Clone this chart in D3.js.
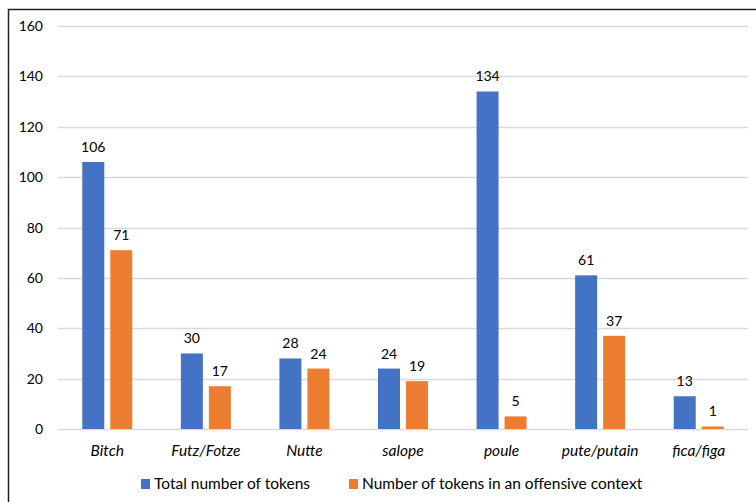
<!DOCTYPE html>
<html><head><meta charset="utf-8">
<script src="https://cdn.jsdelivr.net/npm/d3@7"></script>
<style>body{margin:0;background:#fff}svg{display:block}text{font-family:Lato,"Open Sans",sans-serif;fill:#000}</style>
</head><body>
<svg id="c" width="756" height="502"></svg>
<script>
const categories = ["Bitch","Futz/Fotze","Nutte","salope","poule","pute/putain","fica/figa"];
const totalTokens = [106,30,28,24,134,61,13];
const offensiveTokens = [71,17,24,19,5,37,1];
const seriesNames = ["Total number of tokens","Number of tokens in an offensive context"];
const seriesColors = ["#4472C4","#ED7D31"];
const yTicks = [0,20,40,60,80,100,120,140,160];

const svg = d3.select("#c");
const m = {left:58, right:8, top:26, bottom:73};
const W = 756, H = 502;
const x = d3.scaleBand().domain(categories).range([m.left, W - m.right]).paddingInner(0).paddingOuter(0);
const y = d3.scaleLinear().domain([0,160]).range([H - m.bottom, m.top]);
const barW = 22, gap = 6;

// border
svg.append("path").attr("d",`M8.5,${H}V9.5H${W}`).attr("fill","none").attr("stroke","#222").attr("stroke-width",1.5);

// gridlines
svg.append("g").selectAll("line").data(yTicks).join("line")
  .attr("x1",m.left).attr("x2",W - m.right)
  .attr("y1",d=>Math.round(y(d))+0.5).attr("y2",d=>Math.round(y(d))+0.5)
  .attr("stroke","#d9d9d9").attr("stroke-width",1.3);

// y tick labels
svg.append("g").selectAll("text").data(yTicks).join("text")
  .attr("x",43).attr("y",d=>y(d)+5).attr("text-anchor","end")
  .attr("font-size",14).text(d=>d);

const series = [totalTokens, offensiveTokens];
series.forEach((vals,si)=>{
  const g = svg.append("g");
  const off = si===0 ? -(barW+gap/2) : gap/2;
  g.selectAll("rect").data(vals).join("rect")
    .attr("x",(d,i)=>x(categories[i]) + x.bandwidth()/2 + off)
    .attr("width",barW)
    .attr("y",d=>y(d)).attr("height",d=>y(0)-y(d))
    .attr("fill",seriesColors[si]);
  g.selectAll("text").data(vals).join("text")
    .attr("x",(d,i)=>x(categories[i]) + x.bandwidth()/2 + off + barW/2)
    .attr("y",d=>y(d)-10).attr("text-anchor","middle").attr("font-size",14)
    .text(d=>d);
});

// x labels
svg.append("g").selectAll("text").data(categories).join("text")
  .attr("x",d=>x(d)+x.bandwidth()/2).attr("y",456)
  .attr("text-anchor","middle").attr("font-size",15.5).attr("font-style","italic")
  .text(d=>d);

// legend
const legX = [141, 349];
seriesNames.forEach((n,i)=>{
  svg.append("rect").attr("x",legX[i]).attr("y",479).attr("width",9).attr("height",10).attr("fill",seriesColors[i]);
  svg.append("text").attr("x",legX[i]+13).attr("y",489).attr("font-size",15.5).text(n);
});
</script>
</body></html>
